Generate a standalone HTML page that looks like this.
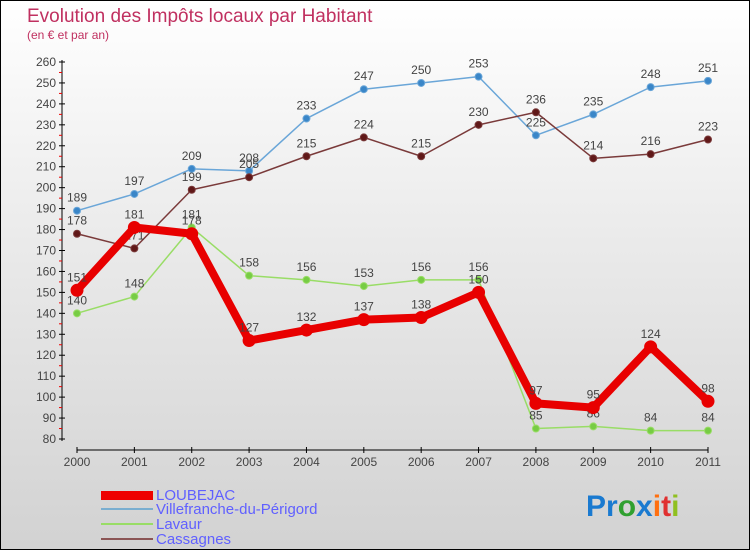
<!DOCTYPE html>
<html><head><meta charset="utf-8"><style>
body{margin:0}
#wrap{width:750px;height:550px;position:relative;box-sizing:border-box;border:1px solid #000;background:linear-gradient(#fff 0%,#ececec 40%,#d2d2d2 100%);overflow:hidden;font-family:"Liberation Sans",sans-serif}
svg text{font-family:"Liberation Sans",sans-serif}
</style></head><body>
<div id="wrap">
<svg id="c" width="750" height="550">
<text x="26" y="21" font-size="19" fill="#c03060">Evolution des Impôts locaux par Habitant</text>
<text x="26" y="38" font-size="12" fill="#c03060">(en € et par an)</text>
<g id="axes"></g><g id="series"></g>
<g>
<rect x="100" y="490" width="52" height="9" fill="#e00"/>
<text x="155" y="499" font-size="15" fill="#6060ff">LOUBEJAC</text>
<rect x="100" y="507" width="52" height="2" fill="#7aaed0"/>
<text x="155" y="513" font-size="15" fill="#6060ff">Villefranche-du-Périgord</text>
<rect x="100" y="522" width="52" height="2" fill="#99dd66"/>
<text x="155" y="528" font-size="15" fill="#6060ff">Lavaur</text>
<rect x="100" y="537" width="52" height="2" fill="#8b5555"/>
<text x="155" y="543" font-size="15" fill="#6060ff">Cassagnes</text>
</g>
<g font-size="30" font-weight="bold">
<text x="585" y="515"><tspan fill="#1a7ad0">P</tspan><tspan fill="#1a7ad0">r</tspan><tspan fill="#30a030">o</tspan><tspan fill="#1a7ad0">x</tspan><tspan fill="#ff7010">i</tspan><tspan fill="#e03030">t</tspan><tspan fill="#90c020">i</tspan></text>
</g>
</svg></div>
<script>
const years=[2000,2001,2002,2003,2004,2005,2006,2007,2008,2009,2010,2011];
const yTicks=[80,90,100,110,120,130,140,150,160,170,180,190,200,210,220,230,240,250,260];
const loubejac=[151,181,178,127,132,137,138,150,97,95,124,98];
const villefranche=[189,197,209,208,233,247,250,253,225,235,248,251];
const lavaur=[140,148,181,158,156,153,156,156,85,86,84,84];
const cassagnes=[178,171,199,205,215,224,215,230,236,214,216,223];
const NS="http://www.w3.org/2000/svg";
const xS=i=>76+i*(707-76)/11;
const yS=v=>438-(v-80)*(438-61)/180;
function mk(t,a,p){const e=document.createElementNS(NS,t);for(const k in a)e.setAttribute(k,a[k]);p.appendChild(e);return e;}
const ax=document.getElementById('axes');
const yl=mk('line',{x1:61,y1:59,x2:61,y2:440,stroke:'#000'},ax);


yTicks.forEach(v=>{
 mk('line',{x1:58,y1:yS(v),x2:64,y2:yS(v),stroke:'#000'},ax);
 if(v<260) mk('line',{x1:58,y1:yS(v+5),x2:61,y2:yS(v+5),stroke:'#e00'},ax);
 const t=mk('text',{x:55,y:yS(v)+4,'font-size':12,fill:'#444','text-anchor':'end'},ax);
 t.textContent=v;
 
 
});
const xl=mk('line',{x1:76,y1:449,x2:707,y2:449,stroke:'#000'},ax);


years.forEach((y,i)=>{
 mk('line',{x1:xS(i),y1:446,x2:xS(i),y2:452,stroke:'#000'},ax);
 const t=mk('text',{x:xS(i),y:465,'font-size':12,fill:'#444','text-anchor':'middle'},ax);
 t.textContent=y;
 
 
});
const sg=document.getElementById('series');
function draw(data,color,dot,w,r,name){
 const g=mk('g',{},sg);
 
 
 const pl=mk('polyline',{points:data.map((v,i)=>xS(i)+','+yS(v)).join(' '),fill:'none',stroke:color,'stroke-width':w,'stroke-linejoin':'round'},g);
 
 
 data.forEach((v,i)=>{
  const c=mk('circle',{cx:xS(i),cy:yS(v),r:r,fill:dot,stroke:color,'stroke-width':1},g);
  
  
  const t=mk('text',{x:xS(i),y:yS(v)-9,'font-size':12,fill:'#444','text-anchor':'middle'},g);
  t.textContent=v;
  
  
 });
}
draw(villefranche,'#6aa6d8','#3a86c8',1.5,3.5,'villefranche');
draw(cassagnes,'#7a3a3a','#601818',1.5,3.5,'cassagnes');
draw(lavaur,'#99dd66','#77cc44',1.5,3.5,'lavaur');
draw(loubejac,'#e80000','#e80000',8,6,'loubejac');
</script></body></html>
